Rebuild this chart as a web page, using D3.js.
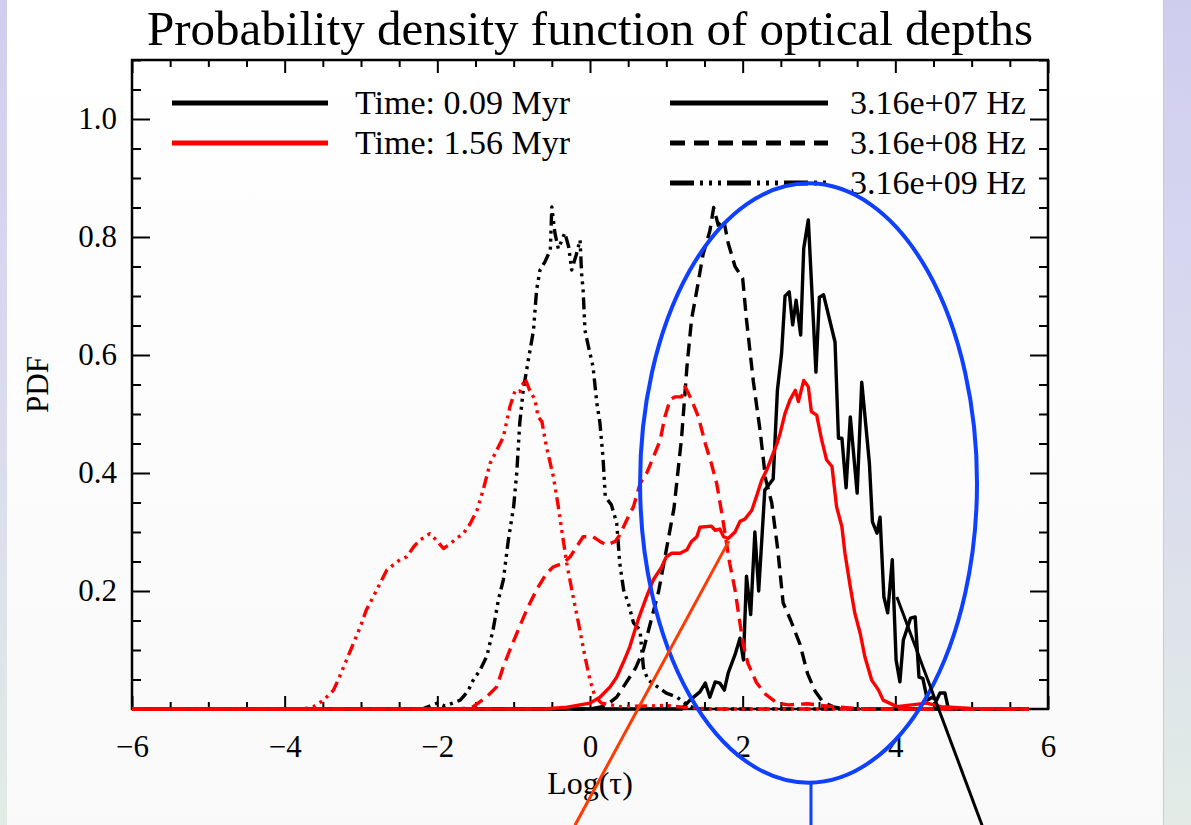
<!DOCTYPE html>
<html>
<head>
<meta charset="utf-8">
<script src="https://cdn.jsdelivr.net/npm/d3@7"></script>
<style>
  body { margin: 0; padding: 0; overflow: hidden; }
  svg { display: block; }
</style>
</head>
<body>
<svg id="chart" width="1191" height="825"></svg>
<script>
// ---- data ----
const xMajorTicks = [-6, -4, -2, 0, 2, 4, 6];
const yMajorTicks = [0.2, 0.4, 0.6, 0.8, 1.0];

const timeLabels = ["Time: 0.09 Myr", "Time: 1.56 Myr"];
const freqLabels = ["3.16e+07 Hz", "3.16e+08 Hz", "3.16e+09 Hz"];

// t = 0.09 Myr
const blackSolid = [[-6, 0], [1.2, 0], [1.31, 0.015], [1.44, 0.029], [1.51, 0.044], [1.57, 0.02], [1.64, 0.046],
  [1.70, 0.044], [1.76, 0.032], [1.81, 0.061], [1.90, 0.092], [1.965, 0.12], [2.01, 0.083], [2.05, 0.225],
  [2.105, 0.16], [2.16, 0.3], [2.21, 0.2], [2.29, 0.371], [2.40, 0.39], [2.455, 0.54], [2.51, 0.603],
  [2.555, 0.7], [2.61, 0.707], [2.655, 0.651], [2.70, 0.693], [2.76, 0.634], [2.80, 0.781], [2.86, 0.829],
  [2.96, 0.571], [3.005, 0.698], [3.06, 0.702], [3.21, 0.622], [3.255, 0.459], [3.30, 0.459], [3.355, 0.375],
  [3.41, 0.495], [3.50, 0.366], [3.56, 0.554], [3.66, 0.417], [3.70, 0.317], [3.76, 0.298], [3.80, 0.325],
  [3.85, 0.19], [3.90, 0.163], [3.96, 0.253], [4.01, 0.083], [4.06, 0.046], [4.105, 0.117], [4.20, 0.154],
  [4.26, 0.156], [4.31, 0.054], [4.36, 0.052], [4.42, 0.015], [4.48, 0.02], [4.54, 0.015], [4.585, 0.027],
  [4.65, 0.027], [4.69, 0.003], [4.8, 0], [5.75, 0]];

const blackDashed = [[-6, 0], [0.0, 0], [0.2, 0.005], [0.35, 0.02], [0.5, 0.05], [0.6, 0.07], [0.7, 0.1],
  [0.8, 0.15], [0.9, 0.2], [1.0, 0.27], [1.1, 0.34], [1.2, 0.46], [1.27, 0.58], [1.33, 0.66], [1.4, 0.71],
  [1.48, 0.77], [1.57, 0.81], [1.62, 0.85], [1.68, 0.82], [1.75, 0.83], [1.81, 0.79], [1.9, 0.75],
  [2.0, 0.73], [2.05, 0.66], [2.14, 0.555], [2.23, 0.47], [2.3, 0.39], [2.38, 0.35], [2.46, 0.27],
  [2.53, 0.18], [2.63, 0.15], [2.75, 0.11], [2.85, 0.06], [2.95, 0.03], [3.05, 0.012], [3.2, 0.003],
  [3.4, 0], [5.75, 0]];

const blackDashDot = [[-6, 0], [-2.2, 0], [-2.0, 0.01], [-1.9, 0.005], [-1.8, 0.01], [-1.7, 0.015],
  [-1.6, 0.03], [-1.53, 0.049], [-1.44, 0.066], [-1.35, 0.09], [-1.27, 0.134], [-1.2, 0.185],
  [-1.135, 0.219], [-1.07, 0.286], [-1.0, 0.343], [-0.96, 0.40], [-0.92, 0.485], [-0.875, 0.54],
  [-0.81, 0.59], [-0.74, 0.642], [-0.70, 0.71], [-0.655, 0.744], [-0.59, 0.758], [-0.52, 0.778],
  [-0.50, 0.851], [-0.46, 0.807], [-0.415, 0.78], [-0.33, 0.807], [-0.28, 0.784], [-0.24, 0.744],
  [-0.18, 0.77], [-0.13, 0.795], [-0.11, 0.738], [-0.09, 0.71], [-0.066, 0.642], [-0.02, 0.614],
  [0.04, 0.58], [0.09, 0.518], [0.13, 0.485], [0.17, 0.427], [0.20, 0.36], [0.28, 0.346], [0.35, 0.315],
  [0.39, 0.247], [0.44, 0.202], [0.50, 0.18], [0.57, 0.146], [0.655, 0.134], [0.70, 0.07], [0.76, 0.049],
  [0.89, 0.037], [1.0, 0.027], [1.14, 0.02], [1.3, 0.005], [1.4, 0], [5.75, 0]];

// t = 1.56 Myr
const redSolid = [[-6, 0], [-0.6, 0], [-0.3, 0.003], [0.0, 0.01], [0.13, 0.02], [0.26, 0.037], [0.35, 0.054],
  [0.44, 0.08], [0.52, 0.105], [0.63, 0.151], [0.74, 0.19], [0.83, 0.219], [0.94, 0.241], [1.0, 0.258],
  [1.07, 0.264], [1.18, 0.264], [1.27, 0.27], [1.33, 0.284], [1.40, 0.292], [1.44, 0.308], [1.59, 0.31],
  [1.64, 0.303], [1.70, 0.305], [1.75, 0.292], [1.81, 0.289], [1.90, 0.3], [1.965, 0.318], [2.03, 0.322],
  [2.12, 0.337], [2.18, 0.36], [2.25, 0.388], [2.315, 0.405], [2.38, 0.427], [2.45, 0.45], [2.49, 0.467],
  [2.555, 0.501], [2.62, 0.524], [2.69, 0.54], [2.73, 0.521], [2.80, 0.557], [2.86, 0.546], [2.90, 0.504],
  [2.97, 0.498], [3.035, 0.456], [3.10, 0.422], [3.17, 0.411], [3.23, 0.343], [3.30, 0.309], [3.34, 0.264],
  [3.41, 0.207], [3.47, 0.162], [3.54, 0.128], [3.60, 0.089], [3.69, 0.049], [3.78, 0.032], [3.84, 0.015],
  [4.02, 0.004], [4.41, 0.01], [4.6, 0.004], [5.0, 0.001], [5.75, 0]];

const redDashed = [[-6, 0], [-1.7, 0], [-1.53, 0.004], [-1.35, 0.021], [-1.22, 0.038], [-1.135, 0.072],
  [-1.05, 0.1], [-0.96, 0.128], [-0.83, 0.168], [-0.70, 0.202], [-0.57, 0.23], [-0.48, 0.241], [-0.35, 0.247],
  [-0.26, 0.258], [-0.175, 0.275], [-0.09, 0.292], [0.04, 0.292], [0.13, 0.284], [0.22, 0.278], [0.33, 0.284],
  [0.39, 0.295], [0.48, 0.32], [0.57, 0.343], [0.655, 0.382], [0.74, 0.399], [0.85, 0.433], [0.92, 0.456],
  [0.98, 0.495], [1.05, 0.524], [1.11, 0.529], [1.20, 0.529], [1.245, 0.546], [1.29, 0.535], [1.33, 0.524],
  [1.42, 0.495], [1.51, 0.45], [1.59, 0.416], [1.66, 0.382], [1.72, 0.337], [1.77, 0.297], [1.83, 0.247],
  [1.90, 0.202], [1.965, 0.145], [2.01, 0.108], [2.07, 0.077], [2.18, 0.045], [2.3, 0.025], [2.45, 0.01],
  [2.6, 0.007], [2.85, 0.009], [3.1, 0.005], [3.4, 0.002], [3.6, 0], [5.75, 0]];

const redDashDot = [[-6, 0], [-3.75, 0], [-3.62, 0.004], [-3.49, 0.015], [-3.36, 0.032], [-3.28, 0.055],
  [-3.19, 0.083], [-3.10, 0.111], [-3.01, 0.139], [-2.93, 0.168], [-2.84, 0.19], [-2.75, 0.213],
  [-2.66, 0.236], [-2.58, 0.244], [-2.49, 0.253], [-2.40, 0.258], [-2.31, 0.275], [-2.23, 0.286],
  [-2.10, 0.297], [-2.01, 0.286], [-1.92, 0.272], [-1.83, 0.28], [-1.75, 0.289], [-1.66, 0.297],
  [-1.57, 0.314], [-1.48, 0.337], [-1.40, 0.371], [-1.31, 0.416], [-1.22, 0.439], [-1.135, 0.461],
  [-1.05, 0.512], [-0.98, 0.54], [-0.92, 0.538], [-0.85, 0.56], [-0.79, 0.54], [-0.72, 0.524],
  [-0.68, 0.495], [-0.63, 0.487], [-0.57, 0.444], [-0.48, 0.394], [-0.415, 0.343], [-0.37, 0.303],
  [-0.305, 0.247], [-0.22, 0.19], [-0.15, 0.145], [-0.066, 0.089], [0.0, 0.049], [0.066, 0.021],
  [0.15, 0.01], [0.4, 0.004], [1.0, 0.006], [1.3, 0.002], [1.6, 0], [5.75, 0]];

// hand-drawn overlay marks, in data units
const ellipseCenter = [2.863, 0.383];
const ellipseRadii = [2.207, 0.508];
const blueStem = [[2.895, -0.125], [2.895, -0.3]];
const orangeStroke = [[1.82, 0.285], [-0.197, -0.197]];
const blackStroke = [[4.02, 0.19], [5.136, -0.197]];

// ---- setup ----
const W = 1191, H = 825;
const svg = d3.select("#chart");
const serif = "'Liberation Serif', 'Times New Roman', serif";

const x = d3.scaleLinear().domain([-6, 6]).range([132, 1048]);
const y = d3.scaleLinear().domain([0, 1.1]).range([709, 60]);

// background like a slide
const defs = svg.append("defs");
const bgGrad = defs.append("linearGradient").attr("id", "bg").attr("x1", 0).attr("y1", 0).attr("x2", 0).attr("y2", 1);
bgGrad.append("stop").attr("offset", "0%").attr("stop-color", "#ffffff");
bgGrad.append("stop").attr("offset", "100%").attr("stop-color", "#f9f9f9");
const sideGrad = defs.append("linearGradient").attr("id", "side").attr("x1", 0).attr("y1", 0).attr("x2", 0).attr("y2", 1);
sideGrad.append("stop").attr("offset", "0%").attr("stop-color", "#cfcdee");
sideGrad.append("stop").attr("offset", "30%").attr("stop-color", "#d6d6f0");
sideGrad.append("stop").attr("offset", "65%").attr("stop-color", "#dcdfeb");
sideGrad.append("stop").attr("offset", "100%").attr("stop-color", "#e2ece6");

svg.append("rect").attr("width", W).attr("height", H).attr("fill", "url(#bg)");
svg.append("rect").attr("x", 0).attr("width", 7).attr("height", H).attr("fill", "url(#side)");
svg.append("rect").attr("x", 1163).attr("width", W - 1163).attr("height", H).attr("fill", "url(#side)");
svg.append("line").attr("x1", 1163.5).attr("x2", 1163.5).attr("y1", 0).attr("y2", H)
  .attr("stroke", "#c9c9d3").attr("stroke-width", 1);

// title
svg.append("text")
  .attr("x", 590).attr("y", 45)
  .attr("text-anchor", "middle")
  .attr("font-family", serif).attr("font-size", 49)
  .text("Probability density function of optical depths");

// ---- axes (ticks point inward on all four sides) ----
const xMinor = d3.range(-6, 6.01, 0.5).filter(v => !xMajorTicks.includes(v));
const yMinor = d3.range(0, 1.101, 0.05).map(v => +v.toFixed(2)).filter(v => !yMajorTicks.includes(v) && v > 0);

function styleAxis(g) {
  g.select(".domain").remove();
  g.selectAll(".tick line").attr("stroke", "#000").attr("stroke-width", 2);
  g.selectAll("text").attr("font-family", serif).attr("font-size", 31).attr("fill", "#000");
}

svg.append("g").attr("transform", `translate(0,${y(0)})`)
  .call(d3.axisBottom(x).tickValues(xMajorTicks).tickSize(-13).tickPadding(26).tickFormat(d3.format("d")))
  .call(styleAxis);
svg.append("g").attr("transform", `translate(0,${y(0)})`)
  .call(d3.axisBottom(x).tickValues(xMinor).tickSize(-7).tickFormat(""))
  .call(styleAxis);
svg.append("g").attr("transform", `translate(0,${y(1.1)})`)
  .call(d3.axisTop(x).tickValues(xMajorTicks).tickSize(-13).tickFormat(""))
  .call(styleAxis);
svg.append("g").attr("transform", `translate(0,${y(1.1)})`)
  .call(d3.axisTop(x).tickValues(xMinor).tickSize(-7).tickFormat(""))
  .call(styleAxis);

svg.append("g").attr("transform", `translate(${x(-6)},0)`)
  .call(d3.axisLeft(y).tickValues(yMajorTicks).tickSize(-18).tickPadding(15).tickFormat(d3.format(".1f")))
  .call(styleAxis);
svg.append("g").attr("transform", `translate(${x(-6)},0)`)
  .call(d3.axisLeft(y).tickValues(yMinor).tickSize(-9).tickFormat(""))
  .call(styleAxis);
svg.append("g").attr("transform", `translate(${x(6)},0)`)
  .call(d3.axisRight(y).tickValues(yMajorTicks).tickSize(-18).tickFormat(""))
  .call(styleAxis);
svg.append("g").attr("transform", `translate(${x(6)},0)`)
  .call(d3.axisRight(y).tickValues(yMinor).tickSize(-9).tickFormat(""))
  .call(styleAxis);

svg.append("rect")
  .attr("x", x(-6)).attr("y", y(1.1))
  .attr("width", x(6) - x(-6)).attr("height", y(0) - y(1.1))
  .attr("fill", "none").attr("stroke", "#000").attr("stroke-width", 2.5);

// axis titles
svg.append("text")
  .attr("transform", `translate(48,${(y(0) + y(1.1)) / 2}) rotate(-90)`)
  .attr("text-anchor", "middle")
  .attr("font-family", serif).attr("font-size", 31)
  .text("PDF");
svg.append("text")
  .attr("x", 590).attr("y", 794)
  .attr("text-anchor", "middle")
  .attr("font-family", serif).attr("font-size", 32)
  .text("Log(τ)");

// ---- curves ----
const dashed = "13,7";
const dashDot = "12,5,3,5,3,5,3,5";

const series = [
  { data: blackSolid, color: "#000", dash: null },
  { data: blackDashed, color: "#000", dash: dashed },
  { data: blackDashDot, color: "#000", dash: dashDot },
  { data: redSolid, color: "#ff0000", dash: null },
  { data: redDashed, color: "#ff0000", dash: dashed },
  { data: redDashDot, color: "#ff0000", dash: dashDot }
];

const line = d3.line().x(d => x(d[0])).y(d => y(d[1]));

svg.append("g").attr("class", "curves")
  .selectAll("path")
  .data(series)
  .enter().append("path")
  .attr("d", d => line(d.data))
  .attr("fill", "none")
  .attr("stroke", d => d.color)
  .attr("stroke-width", 3.4)
  .attr("stroke-linejoin", "round")
  .attr("stroke-dasharray", d => d.dash);

// ---- legend ----
const leg = svg.append("g").attr("class", "legend");
const rowY = [103, 143, 183];

timeLabels.forEach((t, i) => {
  leg.append("line")
    .attr("x1", 172).attr("x2", 328).attr("y1", rowY[i]).attr("y2", rowY[i])
    .attr("stroke", i === 0 ? "#000" : "#ff0000").attr("stroke-width", 5);
  leg.append("text")
    .attr("x", 355).attr("y", rowY[i] + 11)
    .attr("font-family", serif).attr("font-size", 34)
    .text(t);
});

const legDash = [null, "15,9", "24,6,3,6,3,6,3,6"];
freqLabels.forEach((f, i) => {
  leg.append("line")
    .attr("x1", 670).attr("x2", 828).attr("y1", rowY[i]).attr("y2", rowY[i])
    .attr("stroke", "#000").attr("stroke-width", 5)
    .attr("stroke-dasharray", legDash[i]);
  leg.append("text")
    .attr("x", 850).attr("y", rowY[i] + 11)
    .attr("font-family", serif).attr("font-size", 34)
    .text(f);
});

// ---- overlay marks ----
const over = svg.append("g").attr("class", "overlay");
over.append("ellipse")
  .attr("cx", x(ellipseCenter[0])).attr("cy", y(ellipseCenter[1]))
  .attr("rx", x(ellipseRadii[0]) - x(0)).attr("ry", y(0) - y(ellipseRadii[1]))
  .attr("fill", "none").attr("stroke", "#0f40ff").attr("stroke-width", 4);
over.append("path").attr("d", line(blueStem))
  .attr("stroke", "#0f40ff").attr("stroke-width", 3).attr("fill", "none");
over.append("path").attr("d", line(orangeStroke))
  .attr("stroke", "#ff3a00").attr("stroke-width", 3).attr("fill", "none");
over.append("path").attr("d", line(blackStroke))
  .attr("stroke", "#000").attr("stroke-width", 3).attr("fill", "none");
</script>
</body>
</html>
